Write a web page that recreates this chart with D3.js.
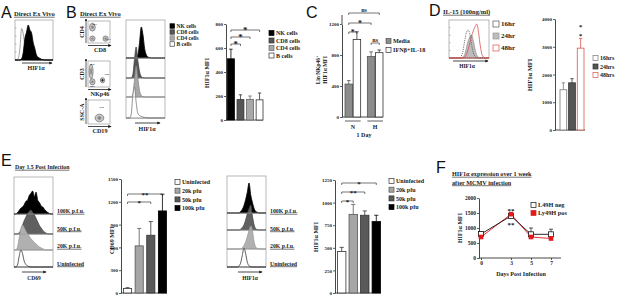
<!DOCTYPE html>
<html><head><meta charset="utf-8">
<script src="https://cdnjs.cloudflare.com/ajax/libs/d3/7.8.5/d3.min.js"></script>
<style>
body{margin:0;background:#fff}
svg{display:block}
text{font-family:'Liberation Serif',serif;font-weight:bold;fill:#1a1a1a}
.letter{font-family:'Liberation Sans',Arial,sans-serif;font-weight:normal;font-size:16px;fill:#111}
</style></head><body>
<script>
// ---- data ----
const bCells = ['NK cells', 'CD8 cells', 'CD4 cells', 'B cells'];
const bMFI = [510, 170, 172, 168];
const bErr = [590, 210, 200, 225];

const cDays = ['N', 'H'];
const cTreat = ['Media', 'IFNβ+IL-18'];
const cMFI = [[425, 1000], [780, 830]];
const cErr = [[470, 1100], [840, 865]];

const dTimes = ['16hrs', '24hrs', '48hrs'];
const dMFI = [1450, 1700, 2950];
const dErr = [1700, 1850, 3300];

const eDoses = ['Uninfected', '20k pfu', '50k pfu', '100k pfu'];
const eCD69 = [60, 620, 760, 1080];
const eCD69Err = [70, 850, 940, 1300];
const eHIF = [460, 870, 860, 790];
const eHIFErr = [505, 980, 908, 860];
const eHistLabels = ['100K p.f.u.', '50K p.f.u.', '20K p.f.u.', 'Uninfected'];

const fDays = [0, 3, 5, 7];
const fNeg = [800, 1400, 790, 790];
const fNegErr = [860, 1460, 1000, 960];
const fPos = [700, 1460, 700, 650];
const fPosErr = [740, 1500, 740, 700];

// histogram shapes (relative counts across the box width)
const aBlack = [0,0,0,0,0.04,0.22,0.62,0.8,1,0.86,0.78,0.5,0.33,0.14,0.08,0.05,0.02,0.01,0,0,0,0,0,0];
const aGray  = [0,0,0.05,0.35,0.9,0.75,0.4,0.15,0.05,0.02,0,0,0,0,0,0,0,0,0,0,0,0,0,0];
const bHist = [
  [0,0,0,0,0,0,0.02,0.1,0.5,1,0.75,0.3,0.1,0.03,0.01,0,0,0,0,0,0,0,0,0],
  [0,0,0,0,0.1,0.6,1,0.55,0.2,0.05,0.01,0,0,0,0,0,0,0,0,0,0,0,0,0],
  [0,0,0,0,0.08,0.55,1,0.6,0.2,0.05,0.01,0,0,0,0,0,0,0,0,0,0,0,0,0],
  [0,0,0,0.1,0.7,1,0.5,0.15,0.08,0.05,0.03,0.02,0.01,0,0,0,0,0,0,0,0,0,0,0]
];
const d16 = [0,0,0,0,0,0,0,0.05,0.2,0.5,0.75,0.82,0.7,0.4,0.15,0.05,0.01,0,0,0,0,0,0,0];
const d24 = [0,0,0,0,0,0,0,0,0.03,0.1,0.3,0.5,0.62,0.68,0.5,0.25,0.08,0.02,0,0,0,0,0,0];
const d48 = [0,0,0,0,0,0,0,0,0,0.03,0.1,0.25,0.45,0.65,0.8,0.92,1,0.75,0.35,0.1,0.02,0,0,0];
const eCD69Hist = [
  [0,0,0.05,0.15,0.25,0.3,0.4,0.55,0.6,0.8,0.9,1,0.75,0.95,0.6,0.5,0.35,0.3,0.2,0.12,0.06,0.02,0,0],
  [0,0,0,0.05,0.15,0.35,0.55,0.7,0.85,0.95,1,0.9,0.8,0.65,0.5,0.35,0.25,0.15,0.08,0.03,0,0,0,0],
  [0,0,0.1,0.45,0.85,1,0.9,0.75,0.65,0.55,0.45,0.38,0.3,0.24,0.18,0.12,0.08,0.05,0.02,0,0,0,0,0],
  [0,0,0.1,0.6,1,0.8,0.35,0.15,0.06,0.02,0,0,0,0,0,0,0,0,0,0,0,0,0,0]
];
const eHIFHist = [
  [0,0,0,0,0,0,0,0,0.05,0.12,0.25,0.45,0.7,1,0.6,0.35,0.15,0.05,0.02,0,0,0,0,0],
  [0,0,0,0,0,0,0,0,0.03,0.1,0.2,0.4,0.65,0.85,1,0.55,0.2,0.05,0.01,0,0,0,0,0],
  [0,0,0,0,0,0,0,0,0,0.05,0.15,0.3,0.55,0.8,1,0.8,0.3,0.08,0.02,0,0,0,0,0],
  [0,0,0,0,0,0,0,0.05,0.2,0.6,1,0.7,0.25,0.06,0.01,0,0,0,0,0,0,0,0,0]
];
// flow dot plot populations (relative position in box)
const dotPlots = [
  {pops: [[0.2, 0.72, 0.13, 0.18], [0.2, 0.2, 0.12, 0.12], [0.8, 0.2, 0.12, 0.12]], nums: [['56.7', 0.3, 0.88], ['31.7', 0.93, 0.2]]},
  {pops: [[0.14, 0.6, 0.09, 0.28], [0.2, 0.2, 0.12, 0.12], [0.66, 0.26, 0.1, 0.1]], nums: [['19.8', 0.18, 0.9], ['3.98', 0.85, 0.5], ['60.9', 0.2, 0.05]]},
  {pops: [[0.52, 0.25, 0.2, 0.16]], nums: [['47.6', 0.62, 0.72]]}
];

const W = 617, H = 296;
const svg = d3.select('body').append('svg').attr('width', W).attr('height', H);
const ink = '#1a1a1a';

svg.append('defs').append('marker').attr('id', 'arr')
  .attr('viewBox', '0 0 6 6').attr('refX', 5).attr('refY', 3)
  .attr('markerWidth', 4).attr('markerHeight', 4).attr('orient', 'auto')
  .append('path').attr('d', 'M0,0L6,3L0,6Z').attr('fill', ink);

function txt(x, y, s, fs, anchor) {
  return svg.append('text').attr('x', x).attr('y', y).attr('font-size', fs)
    .attr('text-anchor', anchor || 'start').text(s);
}
function underlined(x, y, s, fs) {
  const t = txt(x, y, s, fs);
  const w = t.node().getComputedTextLength();
  svg.append('line').attr('x1', x).attr('x2', x + w).attr('y1', y + 1.2).attr('y2', y + 1.2)
    .attr('stroke', ink).attr('stroke-width', 0.6);
  return t;
}
function vlabel(x, y, s, fs) {
  return svg.append('text').attr('transform', `translate(${x},${y}) rotate(-90)`)
    .attr('text-anchor', 'middle').attr('dy', '0.35em').attr('font-size', fs).text(s);
}
function arrow(x1, x2, y) {
  svg.append('line').attr('x1', x1).attr('x2', x2).attr('y1', y).attr('y2', y)
    .attr('stroke', ink).attr('stroke-width', 0.8).attr('marker-end', 'url(#arr)');
}
function hist(x0, x1, base, h, vals, fill, stroke, dash) {
  const x = d3.scaleLinear().domain([0, vals.length - 1]).range([x0, x1]);
  const y = d3.scaleLinear().domain([0, 1]).range([base, base - h]);
  const area = d3.area().x((d, i) => x(i)).y0(base).y1(d => y(d)).curve(d3.curveMonotoneX);
  svg.append('path').datum(vals).attr('d', area).attr('fill', fill).attr('stroke', stroke)
    .attr('stroke-width', 0.8).attr('stroke-dasharray', dash || null);
}
function box(x, y, w, h, ticks) {
  svg.append('rect').attr('x', x).attr('y', y).attr('width', w).attr('height', h)
    .attr('fill', 'none').attr('stroke', '#9a9a9a').attr('stroke-width', 0.7);
  if (ticks) {
    const s = d3.scaleLinear().domain([0, ticks]).range([y + h, y]);
    svg.append('g').selectAll('line').data(d3.range(1, ticks)).join('line')
      .attr('x1', x).attr('x2', x + 1.5).attr('y1', d => s(d)).attr('y2', d => s(d))
      .attr('stroke', '#777').attr('stroke-width', 0.5);
  }
}
function sep(x1, x2, ys) {
  ys.forEach(v => svg.append('line').attr('x1', x1).attr('x2', x2).attr('y1', v).attr('y2', v)
    .attr('stroke', '#9a9a9a').attr('stroke-width', 0.7));
}
function yAxis(x, y, ticks, fs) {
  const a = svg.append('g').attr('transform', `translate(${x},0)`)
    .call(d3.axisLeft(y).tickValues(ticks).tickSize(2).tickPadding(1).tickSizeOuter(0).tickFormat(d3.format('d')));
  a.attr('font-family', null).attr('font-size', null);
  a.select('.domain').attr('stroke', ink).attr('stroke-width', 0.8);
  a.selectAll('.tick line').attr('stroke', ink).attr('stroke-width', 0.7);
  a.selectAll('.tick text').attr('font-size', fs || 5).attr('fill', ink);
  return a;
}
function bars(xs, y, cats, vals, errs, fills, strokes) {
  const w = xs.bandwidth();
  const g = svg.append('g');
  g.selectAll('line.err').data(cats).join('line').attr('class', 'err')
    .attr('x1', c => xs(c) + w / 2).attr('x2', c => xs(c) + w / 2)
    .attr('y1', (c, i) => y(vals[i])).attr('y2', (c, i) => y(errs[i]))
    .attr('stroke', (c, i) => strokes[i]).attr('stroke-width', 0.8);
  g.selectAll('line.cap').data(cats).join('line').attr('class', 'cap')
    .attr('x1', c => xs(c) + w * 0.25).attr('x2', c => xs(c) + w * 0.75)
    .attr('y1', (c, i) => y(errs[i])).attr('y2', (c, i) => y(errs[i]))
    .attr('stroke', (c, i) => strokes[i]).attr('stroke-width', 0.8);
  g.selectAll('rect').data(cats).join('rect')
    .attr('x', c => xs(c)).attr('width', w)
    .attr('y', (c, i) => y(vals[i])).attr('height', (c, i) => y(0) - y(vals[i]))
    .attr('fill', (c, i) => fills[i]).attr('stroke', (c, i) => strokes[i]).attr('stroke-width', 0.8);
}
function baseline(x1, x2, y) {
  svg.append('line').attr('x1', x1).attr('x2', x2).attr('y1', y).attr('y2', y)
    .attr('stroke', ink).attr('stroke-width', 0.8);
}
function bracket(x1, x2, y, label, fs, star) {
  svg.append('path').attr('d', `M${x1},${y + 2}V${y}H${x2}V${y + 2}`)
    .attr('fill', 'none').attr('stroke', ink).attr('stroke-width', 0.6);
  txt((x1 + x2) / 2, star ? y + 2.5 : y - 1, label, fs, 'middle');
}
function legend(x, y, dy, labels, fills, strokes, sz, fs) {
  labels.forEach((l, i) => {
    svg.append('rect').attr('x', x).attr('y', y + i * dy - sz / 2).attr('width', sz).attr('height', sz)
      .attr('fill', fills[i]).attr('stroke', strokes[i]).attr('stroke-width', 0.7);
    txt(x + sz + 2, y + i * dy, l, fs).attr('dy', '0.35em');
  });
}

// ================= A =================
svg.append('text').attr('class', 'letter').attr('x', 1).attr('y', 18).text('A');
underlined(14, 16, 'Direct Ex Vivo', 6.5);
box(15, 20, 38, 40, 5);
hist(15, 53, 60, 35, aGray, '#fff', '#888');
hist(15, 53, 60, 35, aBlack, '#000', '#000');
arrow(22, 52, 63);
txt(36, 70, 'HIF1α', 6, 'middle');

// ================= B =================
svg.append('text').attr('class', 'letter').attr('x', 66).attr('y', 18).text('B');
underlined(80, 16, 'Direct Ex Vivo', 6.5);
const dpBoxes = [[88, 21, 22, 22, 'CD4', 'CD8'], [88, 61, 22, 26, 'CD3', 'NKp46'], [88, 100, 22, 24, 'SSC-A', 'CD19']];
dpBoxes.forEach((b, k) => {
  const [bx, by, bw, bh, yl, xl] = b;
  box(bx, by, bw, bh);
  const sx = d3.scaleLinear().domain([0, 1]).range([bx, bx + bw]);
  const sy = d3.scaleLinear().domain([0, 1]).range([by + bh, by]);
  dotPlots[k].pops.forEach((p, j) => {
    svg.append('ellipse').attr('cx', sx(p[0])).attr('cy', sy(p[1]))
      .attr('rx', p[2] * bw).attr('ry', p[3] * bh)
      .attr('fill', '#c8c8c8').attr('stroke', '#555').attr('stroke-width', 0.6);
    svg.append('ellipse').attr('cx', sx(p[0])).attr('cy', sy(p[1]))
      .attr('rx', p[2] * bw * 0.45).attr('ry', p[3] * bh * 0.45)
      .attr('fill', k === 1 && j === 2 ? '#222' : '#888');
  });
  dotPlots[k].nums.forEach(n => txt(sx(n[1]), sy(n[2]), n[0], 2.6, 'middle').attr('dy', '0.35em'));
  svg.append('line').attr('x1', bx - 2).attr('x2', bx - 2).attr('y1', by + bh).attr('y2', by - 2)
    .attr('stroke', ink).attr('stroke-width', 0.7).attr('marker-end', 'url(#arr)');
  arrow(bx, bx + bw + 1, by + bh + 2.5);
  vlabel(bx - 6, by + bh / 2, yl, 6);
  txt(bx + bw / 2 + 1, by + bh + 8.5, xl, 6.2, 'middle');
});
// HIF1a overlay stack
box(126, 20, 39, 98);
const bBase = [58, 78, 97, 118];
const bHfill = ['#000', '#555', '#a8a8a8', '#fff'];
const bHstroke = ['#000', '#444', '#888', '#777'];
bHist.forEach((h, i) => hist(126, 165, bBase[i], 31, h, bHfill[i], bHstroke[i]));
sep(126, 165, [58, 78, 97]);
arrow(135, 160, 123);
txt(147, 131, 'HIF1α', 6, 'middle');
legend(170, 26, 6, bCells, bHfill, ['#000', '#444', '#888', '#444'], 4.5, 5.5);

// bar chart B
const yB = d3.scaleLinear().domain([0, 800]).range([120, 24]);
const xB = d3.scaleBand().domain(bCells).range([227.5, 263]).paddingInner(0.28);
yAxis(226, yB, [0, 200, 400, 600, 800], 5);
baseline(226, 263, 120);
bars(xB, yB, bCells, bMFI, bErr, bHfill, ['#000', '#333', '#666', '#333']);
vlabel(207, 73, 'HIF1α MFI', 6);
const cx = c => xB(c) + xB.bandwidth() / 2;
bracket(cx('NK cells'), cx('B cells'), 30, '*', 9, true);
bracket(cx('NK cells'), cx('CD4 cells'), 37, '*', 9, true);
bracket(cx('NK cells'), cx('CD8 cells'), 44, '*', 9, true);
legend(269, 33, 7.5, bCells, bHfill, ['#000', '#333', '#666', '#333'], 5, 6);

// ================= C =================
svg.append('text').attr('class', 'letter').attr('x', 306).attr('y', 18).text('C');
const yC = d3.scaleLinear().domain([0, 1200]).range([117, 24]);
const xC = d3.scaleBand().domain(cDays).range([345, 383]).paddingInner(0.3);
const xCs = d3.scaleBand().domain(cTreat).range([0, xC.bandwidth()]).paddingInner(0.08);
yAxis(342, yC, [0, 400, 800, 1200], 5);
svg.append('line').attr('x1', 342).attr('x2', 342).attr('y1', 24).attr('y2', 15).attr('stroke', ink).attr('stroke-width', 0.8);
baseline(342, 383, 117);
cDays.forEach((d, i) => {
  const xs = d3.scaleBand().domain(cTreat).range([xC(d), xC(d) + xC.bandwidth()]).paddingInner(0.08);
  bars(xs, yC, cTreat, cMFI[i], cErr[i], ['#8c8c8c', '#fff'], ['#555', '#333']);
  svg.append('line').attr('x1', xC(d)).attr('x2', xC(d) + xC.bandwidth()).attr('y1', 121).attr('y2', 121)
    .attr('stroke', ink).attr('stroke-width', 0.7);
  txt(xC(d) + xC.bandwidth() / 2, 129, d, 6, 'middle');
});
txt(364, 137, '1 Day', 6, 'middle');
const cc = (d, t) => xC(d) + xCs(t) + xCs.bandwidth() / 2;
bracket(cc('N', 'Media'), cc('H', 'IFNβ+IL-18'), 13, 'ns', 6);
bracket(cc('N', 'Media'), cc('H', 'Media'), 23, '*', 8, true);
bracket(cc('N', 'Media'), cc('N', 'IFNβ+IL-18'), 32, '*', 8, true);
bracket(cc('H', 'Media'), cc('H', 'IFNβ+IL-18'), 43, 'ns', 6);
const cl = svg.append('text').attr('transform', 'translate(318,70) rotate(-90)').attr('text-anchor', 'middle')
  .attr('dy', '0.35em').attr('font-size', 5.5);
cl.append('tspan').text('Lin');
cl.append('tspan').attr('baseline-shift', 'super').attr('font-size', 4).text('-');
cl.append('tspan').text('NKp46');
cl.append('tspan').attr('baseline-shift', 'super').attr('font-size', 4).text('+');
vlabel(325, 70, 'HIF1α MFI', 5.5);
legend(386, 41, 9, cTreat, ['#8c8c8c', '#fff'], ['#555', '#333'], 5, 6.2);

// ================= D =================
svg.append('text').attr('class', 'letter').attr('x', 429).attr('y', 16).text('D');
underlined(443, 14, 'IL-15 (100ng/ml)', 6.5);
box(449, 20, 40, 38, 5);
hist(449, 489, 58, 34, d24, '#bdbdbd', '#999');
hist(449, 489, 58, 34, d16, 'none', '#555', '1.2,1');
hist(449, 489, 58, 34, d48, 'none', '#d9534f');
arrow(453, 488, 61);
txt(467, 68, 'HIF1α', 5.5, 'middle');
legend(493, 24, 12, ['16hr', '24hr', '48hr'], ['#fff', '#bdbdbd', '#fff'], ['#555', '#999', '#d9534f'], 6, 7);

const yD = d3.scaleLinear().domain([0, 4000]).range([130, 19]);
const xD = d3.scaleBand().domain(dTimes).range([560, 584]).paddingInner(0.22);
yAxis(555, yD, [0, 1000, 2000, 3000, 4000], 5);
baseline(555, 585, 130);
bars(xD, yD, dTimes, dMFI, dErr, ['#fff', '#555', '#fff'], ['#777', '#333', '#d9534f']);
vlabel(530, 75, 'HIF1α MFI', 6.5);
const dsx = xD('48hrs') + xD.bandwidth() / 2;
txt(dsx, 29, '*', 6.5, 'middle');
txt(dsx, 37.5, '*', 6.5, 'middle');
legend(593, 58, 8.5, dTimes, ['#fff', '#555', '#fff'], ['#777', '#333', '#d9534f'], 5, 6);

// ================= E =================
svg.append('text').attr('class', 'letter').attr('x', 1).attr('y', 166).text('E');
underlined(15, 169, 'Day 1.5 Post Infection', 5.8);
const eFill = ['#000', '#606060', '#b0b0b0', '#fff'];
const eStroke = ['#000', '#444', '#999', '#333'];
// CD69 stack
box(14, 177, 39, 90);
const e1Base = [214, 234, 250, 267];
const e1H = [23, 24, 25, 17];
eCD69Hist.forEach((h, i) => hist(14, 53, e1Base[i], e1H[i], h, i === 3 ? 'none' : eFill[i], eStroke[i]));
sep(14, 53, [214, 234, 250]);
eHistLabels.forEach((l, i) => underlined(57, 213 + i * 17.5, l, 5.8));
arrow(22, 46, 272);
txt(34, 280, 'CD69', 5.5, 'middle');

const yE1 = d3.scaleLinear().domain([0, 1500]).range([293, 179]);
const xE = d3.scaleBand().domain(eDoses).range([123.5, 166.5]).paddingInner(0.3);
yAxis(121, yE1, [0, 300, 600, 900, 1200, 1500], 5);
baseline(121, 167, 293);
bars(xE, yE1, eDoses, eCD69, eCD69Err, ['#fff', '#a6a6a6', '#595959', '#000'], ['#333', '#555', '#333', '#000']);
vlabel(112, 240, 'CD69 MFI', 6);
const ec = c => xE(c) + xE.bandwidth() / 2;
bracket(ec('Uninfected'), ec('100k pfu'), 194, '**', 7, true);
bracket(ec('Uninfected'), ec('50k pfu'), 202, '*', 7, true);
legend(175, 182, 8.7, eDoses, ['#fff', '#a6a6a6', '#595959', '#000'], ['#333', '#555', '#333', '#000'], 5, 6);

// HIF1a stack
box(227, 176, 39, 91);
const e2Base = [213, 230, 249, 267];
const e2H = [30, 25, 23, 19];
eHIFHist.forEach((h, i) => hist(227, 266, e2Base[i], e2H[i], h, i === 3 ? 'none' : eFill[i], eStroke[i]));
sep(227, 266, [213, 230, 249]);
eHistLabels.forEach((l, i) => underlined(270, 213 + i * 17.5, l, 5.8));
arrow(238, 262, 272);
txt(250, 280, 'HIF1α', 5.5, 'middle');

const yE3 = d3.scaleLinear().domain([0, 1250]).range([293, 180]);
const xE3 = d3.scaleBand().domain(eDoses).range([337.5, 380.5]).paddingInner(0.27);
yAxis(335, yE3, [0, 250, 500, 750, 1000, 1250], 5);
baseline(335, 381, 293);
bars(xE3, yE3, eDoses, eHIF, eHIFErr, ['#fff', '#a6a6a6', '#595959', '#000'], ['#333', '#555', '#333', '#000']);
vlabel(316, 237, 'HIF1α MFI', 6);
const e3c = c => xE3(c) + xE3.bandwidth() / 2;
bracket(e3c('Uninfected'), e3c('100k pfu'), 183, '*', 7, true);
bracket(e3c('Uninfected'), e3c('50k pfu'), 192, '**', 7, true);
bracket(e3c('Uninfected'), e3c('20k pfu'), 201, '*', 7, true);
legend(389, 181, 8.7, eDoses, ['#fff', '#a6a6a6', '#595959', '#000'], ['#333', '#555', '#333', '#000'], 5, 6);

// ================= F =================
svg.append('text').attr('class', 'letter').attr('x', 436).attr('y', 173).text('F');
underlined(452, 176, 'HIF1α expression over 1 week', 6.2);
underlined(452, 184.5, 'after MCMV infection', 6.2);
const xF = d3.scaleLinear().domain([0, 7]).range([481, 551]);
const yF = d3.scaleLinear().domain([0, 2000]).range([258, 198]);
yAxis(479, yF, [0, 500, 1000, 1500, 2000], 5.5);
const fx = svg.append('g').attr('transform', 'translate(0,258)')
  .call(d3.axisBottom(xF).tickValues(fDays).tickSize(2).tickPadding(1).tickSizeOuter(0).tickFormat(d3.format('d')));
fx.attr('font-family', null).attr('font-size', null);
fx.select('.domain').attr('stroke', ink).attr('stroke-width', 0.8).attr('d', 'M479,0H561');
fx.selectAll('.tick line').attr('stroke', ink).attr('stroke-width', 0.7);
fx.selectAll('.tick text').attr('font-size', 5.5).attr('fill', ink);
txt(521, 276, 'Days Post Infection', 6, 'middle');
vlabel(460, 228, 'HIF1α MFI', 6);
const line = d3.line().x((d, i) => xF(fDays[i])).y(d => yF(d));
[[fNeg, fNegErr, '#111'], [fPos, fPosErr, '#e31a1c']].forEach(([vals, errs, col]) => {
  svg.append('g').selectAll('line').data(vals).join('line')
    .attr('x1', (d, i) => xF(fDays[i])).attr('x2', (d, i) => xF(fDays[i]))
    .attr('y1', d => yF(d)).attr('y2', (d, i) => yF(errs[i])).attr('stroke', col).attr('stroke-width', 0.7);
  svg.append('g').selectAll('line').data(errs).join('line')
    .attr('x1', (d, i) => xF(fDays[i]) - 2).attr('x2', (d, i) => xF(fDays[i]) + 2)
    .attr('y1', d => yF(d)).attr('y2', d => yF(d)).attr('stroke', col).attr('stroke-width', 0.7);
});
svg.append('path').datum(fPos).attr('d', line).attr('fill', 'none').attr('stroke', '#e31a1c').attr('stroke-width', 0.9);
svg.append('path').datum(fNeg).attr('d', line).attr('fill', 'none').attr('stroke', '#111').attr('stroke-width', 0.9);
svg.append('g').selectAll('rect').data(fNeg).join('rect')
  .attr('x', (d, i) => xF(fDays[i]) - 2.5).attr('y', d => yF(d) - 2.5).attr('width', 5).attr('height', 5)
  .attr('fill', '#fff').attr('stroke', '#111').attr('stroke-width', 0.8);
svg.append('g').selectAll('rect').data(fPos).join('rect')
  .attr('x', (d, i) => xF(fDays[i]) - 2.3).attr('y', d => yF(d) - 2.3).attr('width', 4.6).attr('height', 4.6)
  .attr('fill', '#e31a1c');
txt(xF(3), 213, '**', 7, 'middle');
txt(xF(3), 227, '**', 7, 'middle');
legend(531, 205, 8, ['L49H neg', 'Ly49H pos'], ['#fff', '#e31a1c'], ['#111', '#e31a1c'], 5, 6.3);
</script>
</body></html>
